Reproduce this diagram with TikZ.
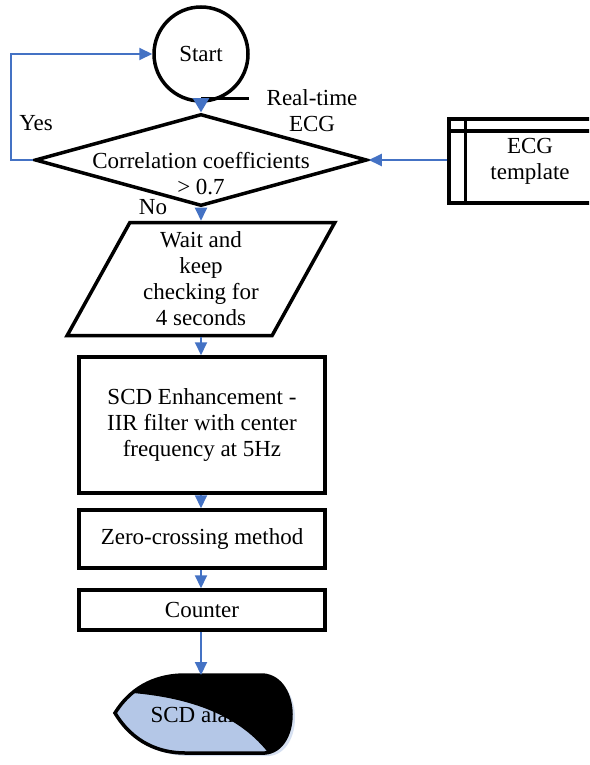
\documentclass[tikz,border=0pt]{standalone}
\usepackage{fontspec}
\setmainfont{Liberation Serif}
\usetikzlibrary{positioning}
\usetikzlibrary{shapes.geometric}
\usetikzlibrary{arrows.meta}
\usetikzlibrary{calc}
\definecolor{flowblue}{RGB}{68,114,196}
\definecolor{alarmfill}{RGB}{180,199,231}
\definecolor{alarmshade}{RGB}{214,224,241}
\newcommand{\alarmpath}{(115,713) .. controls (133,684) and (160,675) .. (185,675) -- (263,675) .. controls (300,678) and (300,750) .. (265,753) -- (185,753) .. controls (160,753) and (133,743) .. (115,713) -- cycle}
\tikzset{>={Triangle[length=13pt,width=12pt]}}
\tikzset{txt/.style={font=\fontsize{23}{26}\selectfont, align=center, inner sep=0pt}}
\tikzset{blk/.style={draw, line width=3.5pt}}
\tikzset{box/.style={blk, rectangle, minimum width=246pt, txt}}
\tikzset{fl/.style={->, draw=flowblue, line width=2pt}}

\begin{document}
\begin{tikzpicture}[x=1pt, y={(0pt,-1pt)}]
\clip (0,0) rectangle (589,765);

\node[blk, circle, minimum size=94pt, txt] (s) at (201,54) {Start};
\draw[line width=3.5pt] ($(s.south)+(0,-4)$) -- ++(48,0);
\node[txt] (rt) at (312,111) {Real-time\\ECG};

\node[blk, diamond, minimum width=332pt, minimum height=92pt, inner sep=0pt] (d) at (201,160) {};
\node[txt] (dt) at (201,174) {Correlation coefficients\\> 0.7};

\node[blk, rectangle, minimum width=162pt, minimum height=84pt, txt] (t) at (530,161) {ECG\\template};
\draw[line width=3.5pt] ($(t.north west)+(18,0)$) -- ($(t.south west)+(18,0)$);
\draw[line width=3.5pt] ($(t.north west)+(0,14)$) -- ($(t.north east)+(0,14)$);

\node[blk, trapezium, trapezium left angle=61.6, trapezium right angle=118.4,
  trapezium stretches=true, minimum width=268pt, minimum height=113pt, txt] (w) at (201,279)
  {Wait and\\keep\\checking for\\4 seconds};

\node[box, minimum height=136pt] (e) at (202,425) {SCD Enhancement -\\IIR filter with center\\frequency at 5Hz};
\node[box, minimum height=58pt] (z) at (202,539) {Zero-crossing method};
\node[box, minimum height=40pt] (c) at (202,610) {Counter};

% alarm
\coordinate (al) at (201,675);
\fill[alarmshade, shift={(4,3)}] \alarmpath;
\fill[alarmfill] \alarmpath;
\begin{scope}
\clip \alarmpath;
\fill[black] (100,690) -- (133,693) .. controls (190,698) and (240,715) .. (270,755) -- (320,760) -- (320,660) -- (100,660) -- cycle;
\end{scope}
\draw[line width=3.5pt] \alarmpath;
\node[txt] (a) at (202,715) {SCD alarm};

\draw[fl, >={Triangle[length=14pt,width=16pt]}] (s.south) -- (d.north);
\draw[fl] (d.west) -- ++(-22,0) |- (s.west);
\node[txt] (yes) at (36,123) {Yes};
\node[txt] (no) at (153,207) {No};
\draw[fl] (t.west |- d.east) -- (d.east);
\draw[fl] (d.south) -- (w.north -| d.south);
\draw[fl] (w.south -| d.south) -- (e.north -| d.south);
\draw[fl] (e.south -| d.south) -- (z.north -| d.south);
\draw[fl] (z.south -| d.south) -- (c.north -| d.south);
\draw[fl] (c.south -| al) -- (al);
\end{tikzpicture}
\end{document}
